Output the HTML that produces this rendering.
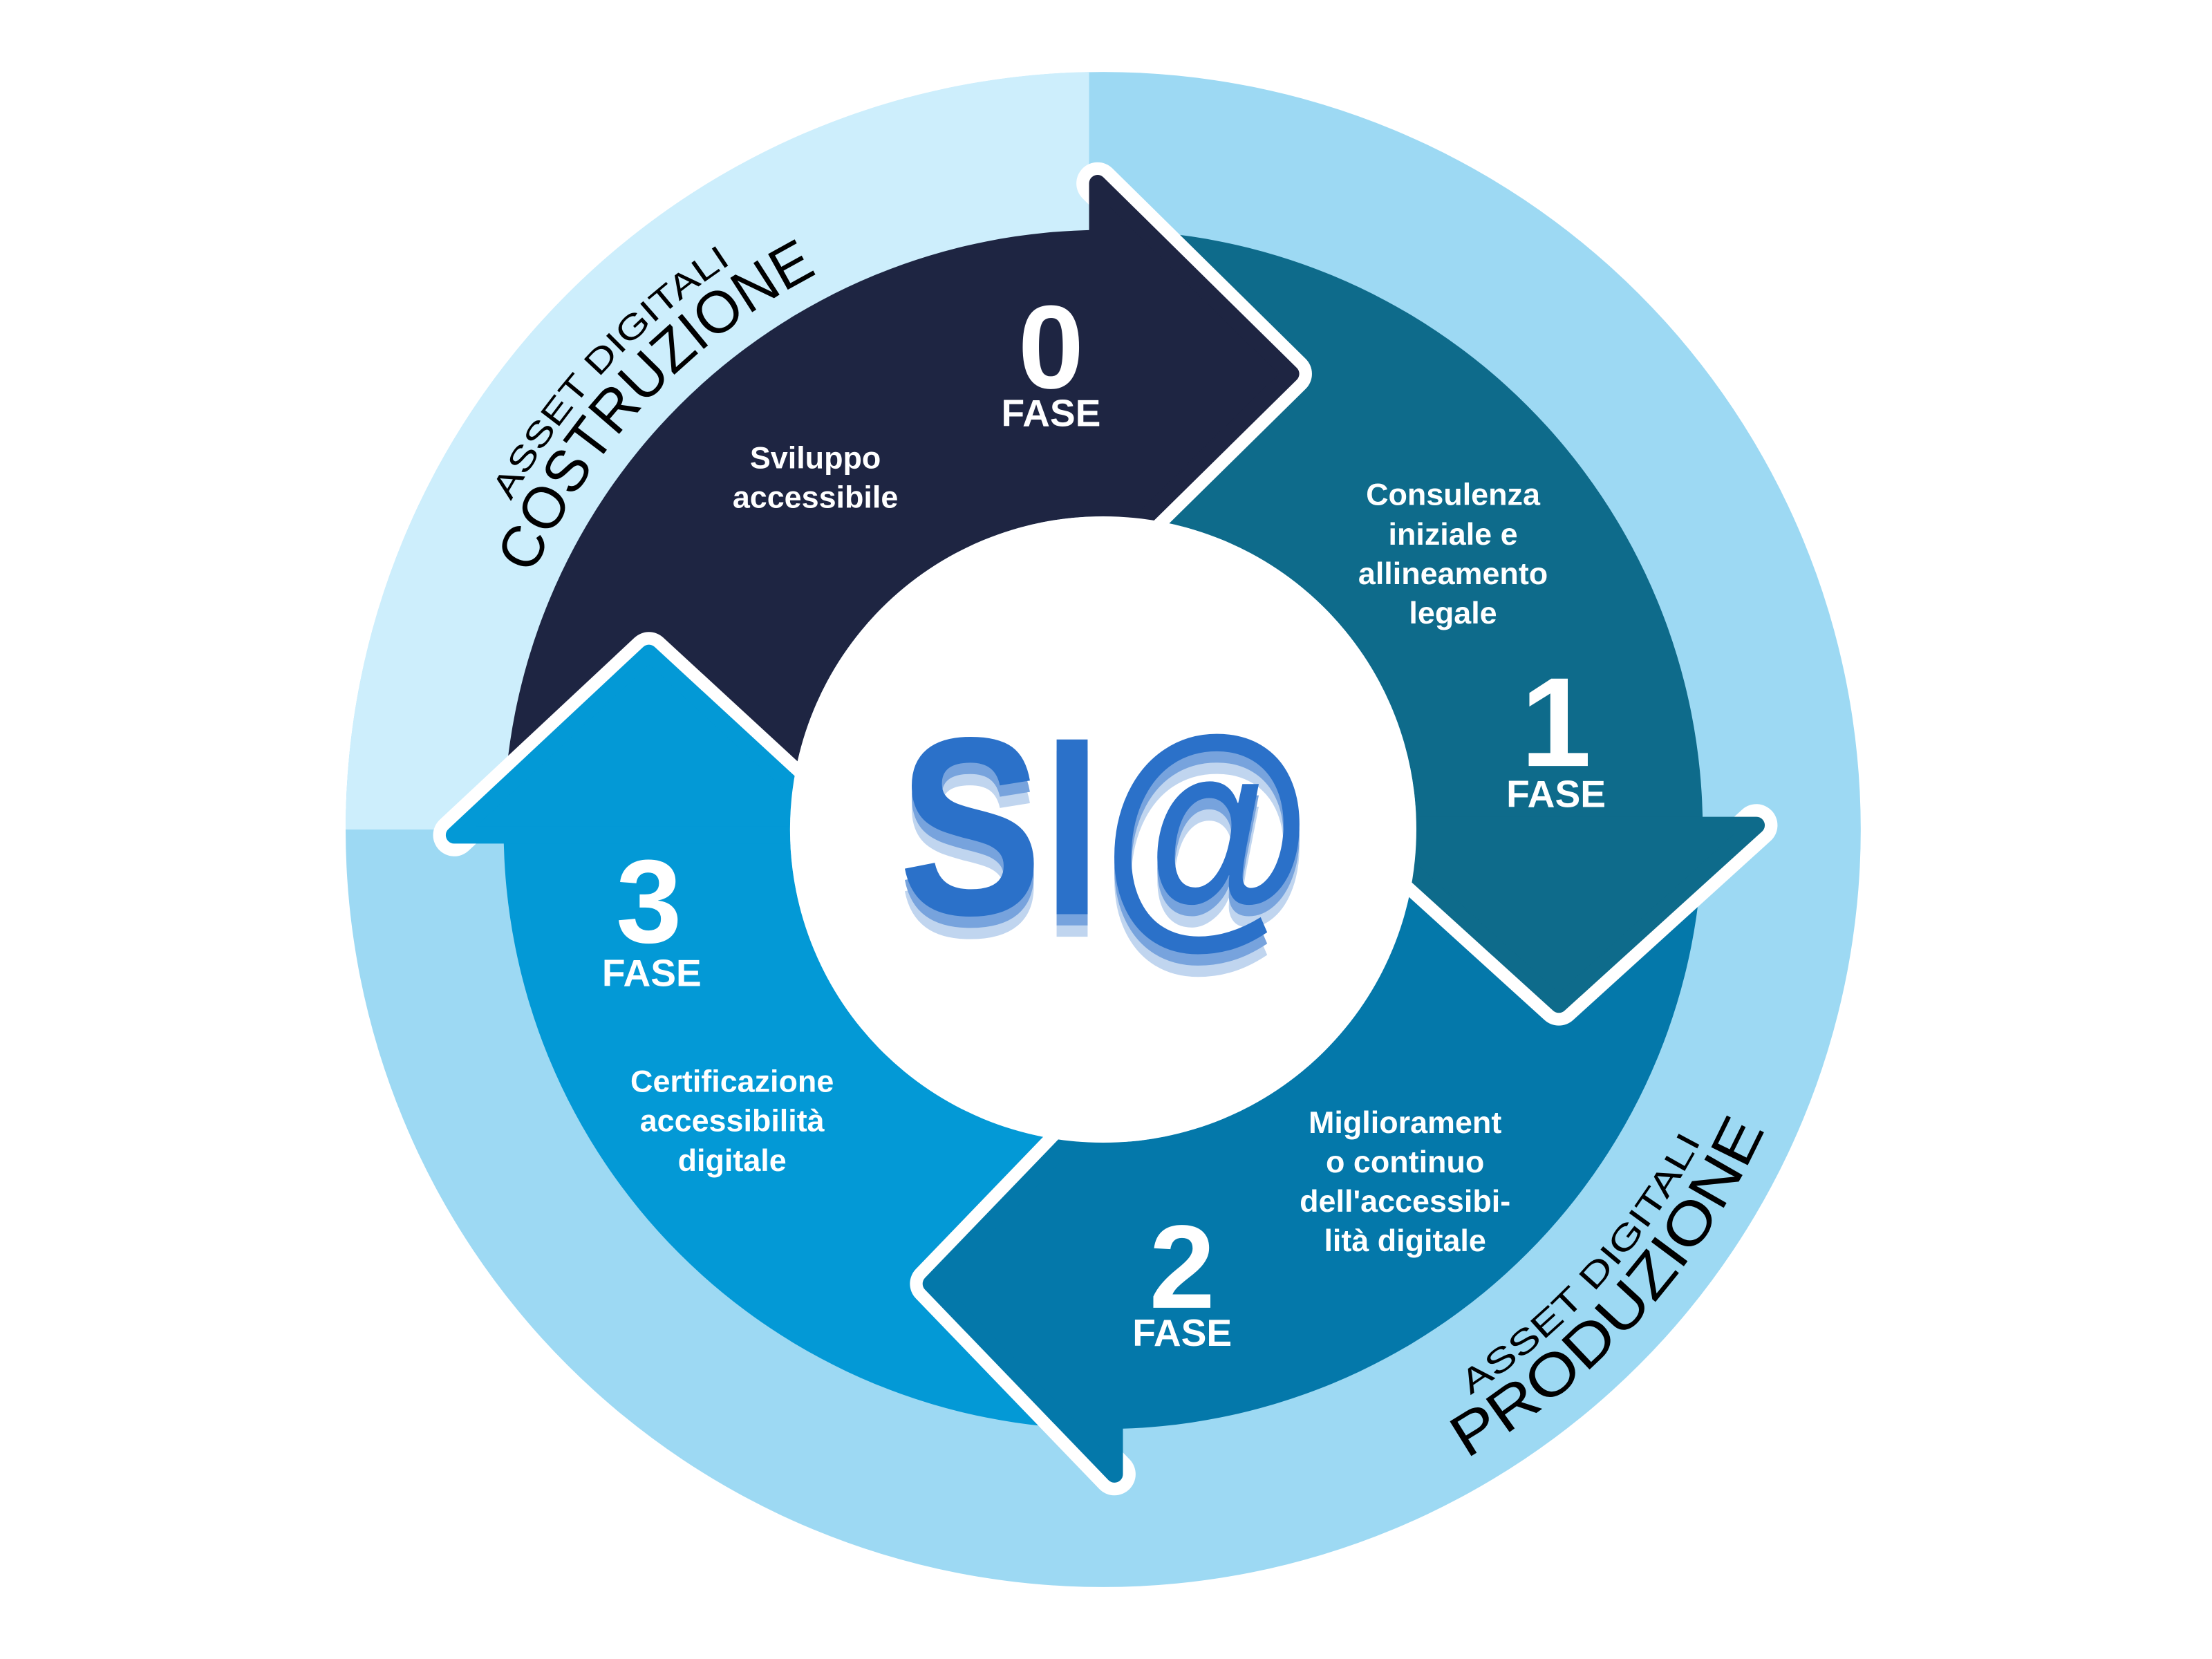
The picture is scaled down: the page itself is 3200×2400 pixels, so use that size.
<!DOCTYPE html>
<html><head><meta charset="utf-8"><style>
html,body{margin:0;padding:0;background:#fff;}
svg{display:block;}
text{font-family:"Liberation Sans",sans-serif;}
</style></head><body>
<svg width="3200" height="2400" viewBox="0 0 1568 1176" xmlns="http://www.w3.org/2000/svg">
<defs>
<path id="pCos" d="M377.3,407.8 A443 443 0 0 1 580.9,193.3"/>
<path id="pAs1" d="M362.2,355.3 A480 480 0 0 1 520.6,185.4"/>
<path id="pPro" d="M1039.5,1034 A515 515 0 0 0 1252.5,797.5"/>
<path id="pAs2" d="M1042.3,988.9 A478 478 0 0 0 1207.9,805"/>
</defs>
<rect width="1568" height="1176" fill="#fff"/>
<circle cx="782" cy="588" r="537" fill="#9dd9f3"/>
<path d="M772,588 L772,51 A537 537 0 0 0 245,588 Z" fill="#cdeefc"/>

<path d="M357,588 A425 425 0 0 1 782,163 L782,366 A222 222 0 0 0 560,588 Z" fill="#1e2542"/>
<path d="M782,163 A425 425 0 0 1 1207,588 L1004,588 A222 222 0 0 0 782,366 Z" fill="#0e6b8b"/>
<path d="M1207,588 A425 425 0 0 1 782,1013 L782,810 A222 222 0 0 0 1004,588 Z" fill="#0478aa"/>
<path d="M782,1013 A425 425 0 0 1 357,588 L560,588 A222 222 0 0 0 782,810 Z" fill="#0399d6"/>

<g stroke-linejoin="round" stroke-linecap="round">
<polyline points="778,130 915,265 778,400" fill="none" stroke="#fff" stroke-width="30"/>
<polygon points="778,130 915,265 778,400" fill="#1e2542" stroke="#1e2542" stroke-width="12"/>
<polyline points="965,585 1105,712 1245,585" fill="none" stroke="#fff" stroke-width="30"/>
<polygon points="965,585 1105,712 1245,585" fill="#0e6b8b" stroke="#0e6b8b" stroke-width="12"/>
<polyline points="790,775 660,910 790,1045" fill="none" stroke="#fff" stroke-width="30"/>
<polygon points="790,775 660,910 790,1045" fill="#0478aa" stroke="#0478aa" stroke-width="12"/>
<polyline points="322,592 460,463 600,592" fill="none" stroke="#fff" stroke-width="30"/>
<polygon points="322,592 460,463 600,592" fill="#0399d6" stroke="#0399d6" stroke-width="12"/>
</g>

<circle cx="782" cy="588" r="222" fill="#fff"/>

<g font-weight="bold" font-size="180">
<text x="637" y="664" textLength="293" lengthAdjust="spacingAndGlyphs" fill="#c0d5ef">SI@</text>
<text x="637" y="656" textLength="293" lengthAdjust="spacingAndGlyphs" fill="#77a3dd">SI@</text>
<text x="637" y="648" textLength="293" lengthAdjust="spacingAndGlyphs" fill="#2b71c9">SI@</text>
</g>

<g fill="#fff" font-weight="bold" text-anchor="middle">
<text x="745" y="275" font-size="84">0</text>
<text x="745" y="302" font-size="27">FASE</text>
<text x="578" y="332" font-size="22">Sviluppo</text>
<text x="578" y="360" font-size="22">accessibile</text>

<text x="1030" y="358" font-size="22">Consulenza</text>
<text x="1030" y="386" font-size="22">iniziale e</text>
<text x="1030" y="414" font-size="22">allineamento</text>
<text x="1030" y="442" font-size="22">legale</text>
<text x="1103" y="543" font-size="90">1</text>
<text x="1103" y="572" font-size="27">FASE</text>

<text x="996" y="803" font-size="22">Migliorament</text>
<text x="996" y="831" font-size="22">o continuo</text>
<text x="996" y="859" font-size="22">dell'accessibi-</text>
<text x="996" y="887" font-size="22">lità digitale</text>
<text x="838" y="927" font-size="84">2</text>
<text x="838" y="954" font-size="27">FASE</text>

<text x="460" y="668" font-size="84">3</text>
<text x="462" y="699" font-size="27">FASE</text>
<text x="519" y="774" font-size="22">Certificazione</text>
<text x="519" y="802" font-size="22">accessibilità</text>
<text x="519" y="830" font-size="22">digitale</text>
</g>

<g fill="#000">
<text font-size="42"><textPath href="#pCos" textLength="300" lengthAdjust="spacingAndGlyphs">COSTRUZIONE</textPath></text>
<text font-size="24"><textPath href="#pAs1" textLength="232" lengthAdjust="spacingAndGlyphs">ASSET DIGITALI</textPath></text>
<text font-size="42"><textPath href="#pPro" textLength="320" lengthAdjust="spacingAndGlyphs">PRODUZIONE</textPath></text>
<text font-size="24"><textPath href="#pAs2" textLength="246" lengthAdjust="spacingAndGlyphs">ASSET DIGITALI</textPath></text>
</g>
</svg>
</body></html>
